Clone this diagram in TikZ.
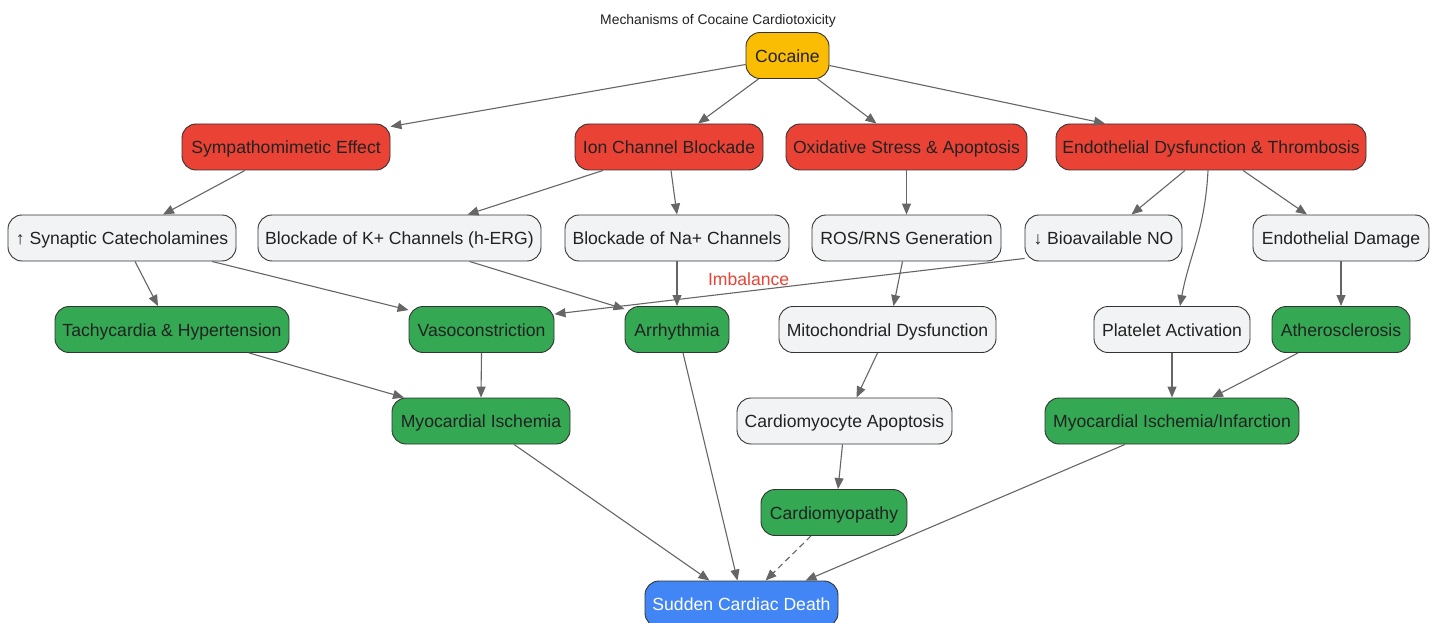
\documentclass[tikz,border=0pt]{standalone}
\usepackage{fontspec}
\setmainfont{Liberation Sans}
\usetikzlibrary{arrows.meta}
\definecolor{cred}{HTML}{EA4335}
\definecolor{cgreen}{HTML}{34A853}
\definecolor{cgrey}{HTML}{F1F3F4}
\definecolor{cyel}{HTML}{FBBC04}
\definecolor{cblue}{HTML}{4285F4}
\definecolor{cedge}{HTML}{666666}
\definecolor{cbord}{HTML}{333333}
\definecolor{ctext}{HTML}{222222}
\tikzset{
  box/.style={draw=cbord, line width=0.9pt, rounded corners=14pt, minimum height=46pt,
    inner sep=0pt, text height=17.5pt, text depth=3.7pt, text=ctext,
    font=\fontsize{17.6}{20}\selectfont},
  redbox/.style={box, fill=cred},
  greenbox/.style={box, fill=cgreen},
  greybox/.style={box, fill=cgrey},
  yelbox/.style={box, fill=cyel},
  bluebox/.style={box, fill=cblue, text=white},
  edge/.style={draw=cedge, line width=1.1pt, -{Triangle[length=11pt,width=9pt]}},
  elabel/.style={text=cred, font=\fontsize{17.6}{20}\selectfont}
}
\begin{document}
\begin{tikzpicture}[x=1pt,y=-1pt]
\useasboundingbox (0,0) rectangle (1438,623);
\fill[white] (0,0) rectangle (1438,623);

\node[font=\fontsize{13.9}{16}\selectfont, text=ctext, text height=10pt, text depth=3pt, inner sep=0pt] (title) at (718,21) {Mechanisms of Cocaine Cardiotoxicity};

\node[yelbox, minimum width=83pt] (co) at (787.5,55.5) {Cocaine};

\node[redbox, minimum width=208pt] (sy) at (286,147) {Sympathomimetic Effect};
\node[redbox, minimum width=188pt] (ion) at (669,147) {Ion Channel Blockade};
\node[redbox, minimum width=241pt] (ox) at (906.5,147) {Oxidative Stress \& Apoptosis};
\node[redbox, minimum width=310pt] (ed) at (1211,147) {Endothelial Dysfunction \& Thrombosis};

\node[greybox, minimum width=228pt] (syn) at (122,238) {↑ Synaptic Catecholamines};
\node[greybox, minimum width=283pt] (k) at (399.5,238) {Blockade of K+ Channels (h-ERG)};
\node[greybox, minimum width=224pt] (na) at (677,238) {Blockade of Na+ Channels};
\node[greybox, minimum width=189pt] (ros) at (906.5,238) {ROS/RNS Generation};
\node[greybox, minimum width=157pt] (no) at (1103.5,238) {↓ Bioavailable NO};
\node[greybox, minimum width=176pt] (dmg) at (1341,238) {Endothelial Damage};

\node[greenbox, minimum width=234pt] (tach) at (172,329.5) {Tachycardia \& Hypertension};
\node[greenbox, minimum width=145pt] (vaso) at (481.5,329.5) {Vasoconstriction};
\node[greenbox, minimum width=104pt] (arr) at (677,329.5) {Arrhythmia};
\node[greybox, minimum width=217pt] (mito) at (887.5,329.5) {Mitochondrial Dysfunction};
\node[greybox, minimum width=156pt] (pa) at (1172,329.5) {Platelet Activation};
\node[greenbox, minimum width=138pt] (ath) at (1341,329.5) {Atherosclerosis};

\node[greenbox, minimum width=178pt] (mi) at (481,421) {Myocardial Ischemia};
\node[greybox, minimum width=215pt] (ca) at (844.5,421) {Cardiomyocyte Apoptosis};
\node[greenbox, minimum width=254pt] (mii) at (1172,421) {Myocardial Ischemia/Infarction};

\node[greenbox, minimum width=146pt] (cm) at (834,512.5) {Cardiomyopathy};

\node[bluebox, minimum width=193pt] (scd) at (741.5,604) {Sudden Cardiac Death};

% edges
\draw[edge] ([yshift=-9pt]co.west) -- ([yshift=-3pt]sy.north east);
\draw[edge] ([xshift=-29pt]co.south) -- ([xshift=29pt]ion.north);
\draw[edge] ([xshift=30pt]co.south) -- ([xshift=-30pt]ox.north);
\draw[edge] ([yshift=-10pt]co.east) -- ([xshift=-106pt]ed.north);

\draw[edge] ([xshift=-41pt]sy.south) -- ([xshift=41pt]syn.north);
\draw[edge] ([xshift=-66pt]ion.south) -- ([xshift=68pt]k.north);
\draw[edge] ([xshift=2pt]ion.south) -- (na.north);
\draw[edge] (ox.south) -- (ros.north);
\draw[edge] ([xshift=-26pt]ed.south) -- ([xshift=28pt]no.north);
\draw[edge] ([xshift=-3pt]ed.south) .. controls +(-3,60) and +(9,-50) .. ([xshift=8pt]pa.north);
\draw[edge] ([xshift=32pt]ed.south) -- ([xshift=-34pt]dmg.north);

\draw[edge] ([xshift=13pt]syn.south) -- ([xshift=-14pt]tach.north);
\draw[edge] ([xshift=90pt]syn.south) -- ([yshift=-4pt]vaso.north west);
\draw[edge] ([xshift=70pt]k.south) -- ([yshift=-3pt]arr.north west);
\draw[edge] (na.south) -- (arr.north);
\draw[edge] ([xshift=-4pt]ros.south) -- ([xshift=6pt]mito.north);
\draw[edge] ([yshift=3pt]no.south west) -- node[pos=0.587, yshift=12pt, elabel] {Imbalance} ([yshift=-8pt]vaso.north east);
\draw[edge] (dmg.south) -- (ath.north);

\draw[edge] ([xshift=77pt]tach.south) -- ([xshift=-77pt]mi.north);
\draw[edge] (vaso.south) -- (mi.north);
\draw[edge] ([xshift=-10pt]mito.south) -- ([xshift=12pt]ca.north);
\draw[edge] (pa.south) -- (mii.north);
\draw[edge] ([xshift=-43pt]ath.south) -- ([xshift=40pt]mii.north);
\draw[edge] ([xshift=-2pt]ca.south) -- ([xshift=4pt]cm.north);

\draw[edge] ([xshift=33pt]mi.south) -- ([xshift=-32pt]scd.north);
\draw[edge] ([xshift=6pt]arr.south) -- ([xshift=-4pt]scd.north);
\draw[edge, dashed, dash pattern=on 6pt off 4pt] ([xshift=-23pt]cm.south) -- ([xshift=24pt]scd.north);
\draw[edge] ([xshift=-47pt]mii.south) -- ([xshift=64pt]scd.north);
\end{tikzpicture}
\end{document}
